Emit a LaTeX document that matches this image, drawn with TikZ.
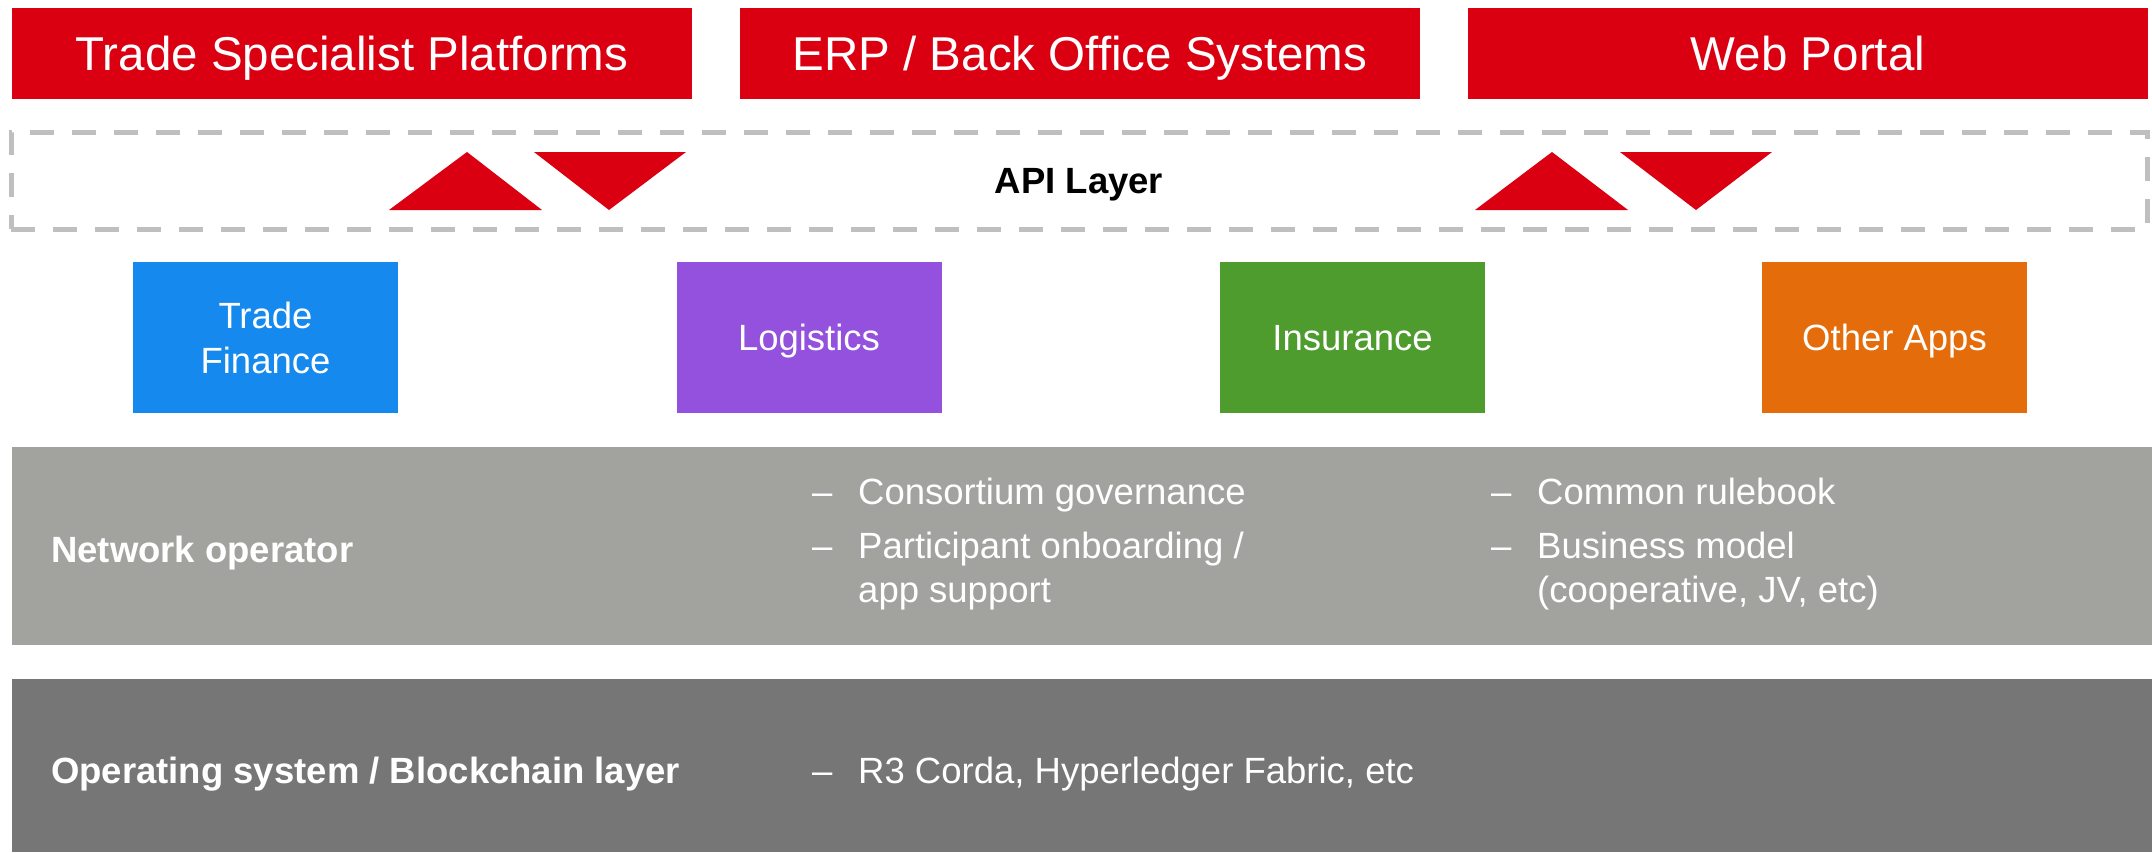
\documentclass[tikz,border=0pt]{standalone}
\usepackage{fontspec}
\setmainfont{Liberation Sans}
\definecolor{brandred}{RGB}{218,0,17}
\definecolor{dashgray}{RGB}{191,191,191}
\definecolor{appblue}{RGB}{22,137,238}
\definecolor{apppurple}{RGB}{147,81,222}
\definecolor{appgreen}{RGB}{79,156,46}
\definecolor{apporange}{RGB}{228,108,10}
\definecolor{netgray}{RGB}{162,163,159}
\definecolor{osgray}{RGB}{118,118,118}
\tikzset{
  topbox/.style={fill=brandred, text=white, inner sep=0pt,
    minimum width=680pt, minimum height=91pt,
    font=\fontsize{47.5pt}{57pt}\selectfont,
    text height=34pt, text depth=0pt},
  apibox/.style={draw=dashgray, line width=5pt, dash pattern=on 24pt off 18pt,
    inner sep=0pt, minimum width=2136pt, minimum height=97pt,
    font=\bfseries\fontsize{36.5pt}{44pt}\selectfont,
    text height=26pt, text depth=0pt},
  appbox/.style={text=white, inner sep=0pt, align=center,
    minimum width=265pt, minimum height=151pt,
    font=\fontsize{36.5pt}{45pt}\selectfont},
  oneline/.style={text height=26pt, text depth=0pt},
  band/.style={inner sep=0pt, minimum width=2140pt},
  body/.style={text=white, inner sep=0pt, anchor=base west,
    font=\fontsize{36.5pt}{44pt}\selectfont},
  bodybold/.style={body, font=\bfseries\fontsize{36.5pt}{44pt}\selectfont},
  dashmark/.style={body},
  flowtri/.style={fill=brandred}
}
\begin{document}
\begin{tikzpicture}[x=1pt, y=-1pt]
\useasboundingbox (0,0) rectangle (2152,852);

% top row: consuming systems
\node[topbox] (tsp) at (352,53.5) {Trade Specialist Platforms};
\node[topbox] (erp) at (1080,53.5) {ERP / Back Office Systems};
\node[topbox] (web) at (1808,53.5) {Web Portal};

% API layer
\node[apibox] (api) at (1079,180.5) {API Layer};

% request / response triangles
\fill[flowtri] (467,152) -- (542,210) -- (389,210) -- cycle;
\fill[flowtri] (534,152) -- (686,152) -- (609,210) -- cycle;
\fill[flowtri] (1552,152) -- (1628,210) -- (1475,210) -- cycle;
\fill[flowtri] (1620,152) -- (1772,152) -- (1696,210) -- cycle;

% applications
\node[appbox, fill=appblue] (tf) at (265.5,337.5) {Trade\\Finance};
\node[appbox, oneline, fill=apppurple] (log) at (809,337.5) {Logistics};
\node[appbox, oneline, fill=appgreen] (ins) at (1352.5,337.5) {Insurance};
\node[appbox, oneline, fill=apporange] (oth) at (1894.5,337.5) {Other Apps};

% network operator band
\node[band, fill=netgray, minimum height=198pt] (net) at (1082,546) {};
\node[bodybold] (netlbl) at (51,562) {Network operator};
\node[dashmark] (d1) at (812,504) {\textendash};
\node[body] (cg) at (858,504) {Consortium governance};
\node[dashmark] (d2) at (812,558) {\textendash};
\node[body] (po) at (858,558) {Participant onboarding /};
\node[body] (as) at (858,602) {app support};
\node[dashmark] (d3) at (1491,504) {\textendash};
\node[body] (cr) at (1537,504) {Common rulebook};
\node[dashmark] (d4) at (1491,558) {\textendash};
\node[body] (bm) at (1537,558) {Business model};
\node[body] (coop) at (1537,602) {(cooperative, JV, etc)};

% operating system band
\node[band, fill=osgray, minimum height=173pt] (os) at (1082,765.5) {};
\node[bodybold] (oslbl) at (51,783) {Operating system / Blockchain layer};
\node[dashmark] (d5) at (812,783) {\textendash};
\node[body] (r3) at (858,783) {R3 Corda, Hyperledger Fabric, etc};
\end{tikzpicture}
\end{document}
